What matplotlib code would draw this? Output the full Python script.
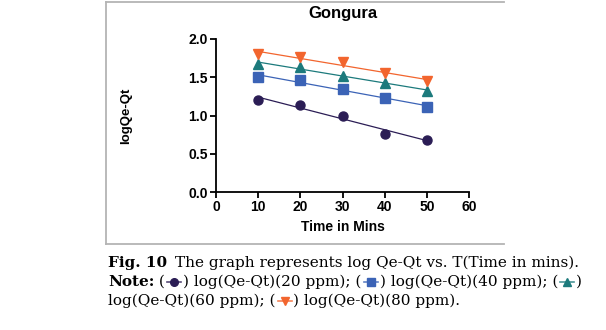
import numpy as np
import matplotlib.pyplot as plt
from matplotlib.lines import Line2D

# time (min) and log(Qe-Qt) at each concentration
time_min = [10, 20, 30, 40, 50]
log_20ppm = [1.20, 1.14, 1.00, 0.76, 0.68]
log_40ppm = [1.50, 1.46, 1.35, 1.23, 1.11]
log_60ppm = [1.67, 1.64, 1.52, 1.43, 1.32]
log_80ppm = [1.80, 1.77, 1.70, 1.55, 1.45]

series = [
    ("20 ppm", log_20ppm, "#2b1d55", "o"),
    ("40 ppm", log_40ppm, "#3b63b6", "s"),
    ("60 ppm", log_60ppm, "#1c7a7c", "^"),
    ("80 ppm", log_80ppm, "#f2652e", "v"),
]

plt.rcParams["font.family"] = ["Liberation Sans", "DejaVu Sans"]

fig = plt.figure(figsize=(6.06, 3.30), dpi=100)
ax = fig.add_axes([216 / 606, 1 - 192 / 330, 253 / 606, 153 / 330])

t = np.array(time_min)
for name, vals, col, mk in series:
    ax.plot(t, vals, linestyle="none", marker=mk, color=col, markersize=6.5)
    k, b = np.polyfit(t, vals, 1)
    ax.plot(t, k * t + b, color=col, lw=0.9)

ax.set_xlim(0, 60)
ax.set_ylim(0, 2.0)
ax.set_xticks([0, 10, 20, 30, 40, 50, 60])
ax.set_yticks([0.0, 0.5, 1.0, 1.5, 2.0])
ax.set_yticklabels(["0.0", "0.5", "1.0", "1.5", "2.0"])
for s in ["top", "right"]:
    ax.spines[s].set_visible(False)
for s in ["left", "bottom"]:
    ax.spines[s].set_linewidth(1.3)
ax.tick_params(direction="out", length=4, width=1.3, labelsize=10, pad=2)
for lab in ax.get_xticklabels() + ax.get_yticklabels():
    lab.set_fontweight("bold")
ax.set_xlabel("Time in Mins", fontsize=10, fontweight="bold", labelpad=4)
ax.set_ylabel("logQe-Qt", fontsize=9.5, fontweight="bold", labelpad=40)
ax.set_title("Gongura", fontsize=12, fontweight="bold", pad=15)

# frame around the plot area (top, left, bottom only)
fr = dict(color="#b4b4b4", lw=1.3, transform=fig.transFigure)
fig.add_artist(Line2D([106 / 606, 504 / 606], [1 - 2 / 330, 1 - 2 / 330], **fr))
fig.add_artist(Line2D([106 / 606, 106 / 606], [1 - 2 / 330, 1 - 244 / 330], **fr))
fig.add_artist(Line2D([106 / 606, 504 / 606], [1 - 244 / 330, 1 - 244 / 330], **fr))

# caption with inline legend symbols
serif = ["DejaVu Serif"]
fs = 11.0
renderer = fig.canvas.get_renderer()


def put(x, y, s, bold=False):
    txt = fig.text(x, y, s, fontsize=fs, family=serif,
                   fontweight="bold" if bold else "normal", va="baseline")
    bb = txt.get_window_extent(renderer)
    return x + bb.width / fig.bbox.width


def sym(x, y, col, mk):
    w = 18 / 606
    yy = y + 4 / 330
    fig.add_artist(Line2D([x + 2 / 606, x + w - 2 / 606], [yy, yy], color=col, lw=1.2,
                          transform=fig.transFigure, alpha=0.8))
    fig.add_artist(Line2D([x + w / 2], [yy], color=col, marker=mk, markersize=5.5,
                          transform=fig.transFigure))
    return x + w


x0 = 108 / 606
y1, y2, y3 = 1 - 267 / 330, 1 - 286 / 330, 1 - 305 / 330

x = put(x0, y1, "Fig. 10", bold=True)
put(x + 8 / 606, y1, "The graph represents log Qe-Qt vs. T(Time in mins).")

x = put(x0, y2, "Note:", bold=True)
x = put(x, y2, " (")
x = sym(x, y2, series[0][2], series[0][3])
x = put(x, y2, ") log(Qe-Qt)(20 ppm); (")
x = sym(x, y2, series[1][2], series[1][3])
x = put(x, y2, ") log(Qe-Qt)(40 ppm); (")
x = sym(x, y2, series[2][2], series[2][3])
x = put(x, y2, ")")

x = put(x0, y3, "log(Qe-Qt)(60 ppm); (")
x = sym(x, y3, series[3][2], series[3][3])
x = put(x, y3, ") log(Qe-Qt)(80 ppm).")

fig.savefig("out.png", dpi=100)
